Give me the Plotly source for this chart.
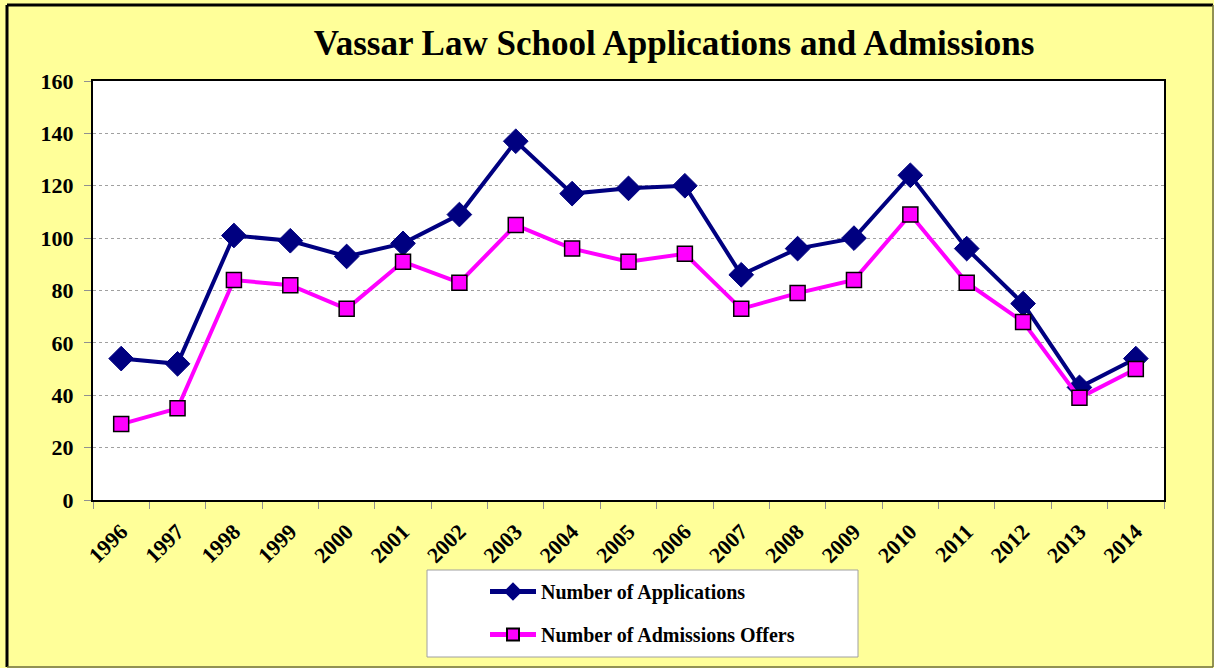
import plotly.graph_objects as go

years = [str(y) for y in range(1996, 2015)]
applications = [54, 52, 101, 99, 93, 98, 109, 137, 117, 119, 120, 86, 96, 100, 124, 96, 75, 43, 54]
admissions = [29, 35, 84, 82, 73, 91, 83, 105, 96, 91, 94, 73, 79, 84, 109, 83, 68, 39, 50]
y_ticks = [0, 20, 40, 60, 80, 100, 120, 140, 160]

W, H = 1214, 668
L, R, T, B = 93, 1164, 81, 500
pw, ph = R - L, B - T

def px(x):
    return (x - L) / pw

def py(y):
    return (B - y) / ph

FONT = "Liberation Serif, Times New Roman, serif"

fig = go.Figure()
fig.add_trace(go.Scatter(
    x=years, y=applications, name="<b>Number of Applications</b>", mode="lines+markers",
    line=dict(color="#000080", width=4),
    marker=dict(symbol="diamond", size=19, color="#000080", line=dict(color="#000080", width=1)),
    legendgroup="a",
))
fig.add_trace(go.Scatter(
    x=years, y=admissions, name="<b>Number of Admissions Offers</b>", mode="lines+markers",
    line=dict(color="#FF00FF", width=4),
    marker=dict(symbol="square", size=15, color="#FF00FF", line=dict(color="#000000", width=1.5)),
    legendgroup="b",
))

frame = []
for (xa, ya, xb, yb, col, wd) in [
    (7, 5, 7, 667, "#000000", 3),
    (7, 5, 1213, 5, "#000000", 3),
    (1213, 5, 1213, 667, "#6E6E3C", 1.5),
    (7, 667, 1213, 667, "#6E6E3C", 1.5),
]:
    frame.append(dict(type="line", xref="paper", yref="paper",
                      x0=px(xa), x1=px(xb), y0=py(ya), y1=py(yb),
                      line=dict(color=col, width=wd), layer="above"))

fig.update_layout(
    width=W, height=H,
    margin=dict(l=L, r=W - R, t=T, b=H - B),
    paper_bgcolor="#FFFF99",
    plot_bgcolor="#FFFFFF",
    font=dict(family=FONT, color="#000000"),
    title=dict(text="<b>Vassar Law School Applications and Admissions</b>",
               x=674 / W, xanchor="center", y=1 - 43 / H, yanchor="middle",
               font=dict(size=35, family=FONT, color="#000000")),
    showlegend=True,
    legend=dict(x=px(485), xanchor="left", y=py(572), yanchor="top",
                bgcolor="rgba(0,0,0,0)", borderwidth=0,
                font=dict(size=20, family=FONT, color="#000000"),
                tracegroupgap=14, itemwidth=46, itemsizing="constant"),
    shapes=[
        dict(type="rect", xref="paper", yref="paper",
             x0=px(427), x1=px(858), y0=py(657), y1=py(570),
             fillcolor="#FFFFFF", line=dict(color="#A0A0A0", width=1), layer="above"),
    ] + frame,
)

fig.update_xaxes(
    type="category", range=[-0.5, len(years) - 0.5],
    tickson="boundaries", ticks="outside", ticklen=7, tickcolor="#909090",
    tickangle=-45, tickfont=dict(size=22, family=FONT), showgrid=False,
    ticklabelstandoff=8,
    showline=True, linecolor="#000000", linewidth=2, mirror=True,
    tickprefix="<b>", ticksuffix="</b>",
)
fig.update_yaxes(
    range=[0, 160], tickvals=y_ticks, ticktext=[f"<b>{v}</b>" for v in y_ticks],
    ticks="outside", ticklen=7, tickcolor="#909090", tickfont=dict(size=22, family=FONT),
    ticklabelstandoff=6,
    showgrid=True, gridcolor="#A0A0A0", griddash="dot", gridwidth=1,
    showline=True, linecolor="#000000", linewidth=2, mirror=True, zeroline=False,
)

fig.write_html("out.html", config={"displayModeBar": False},
               post_script="document.body.style.margin='0';")
